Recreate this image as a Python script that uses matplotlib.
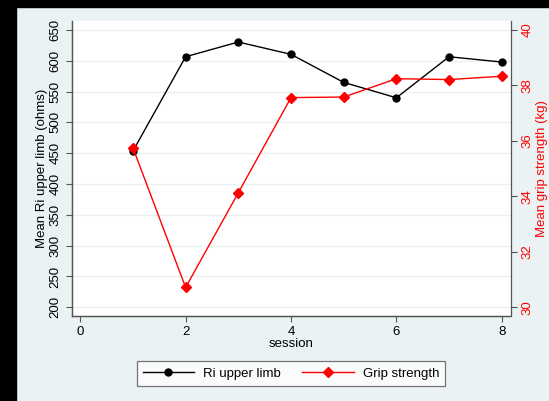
import matplotlib
matplotlib.use("Agg")
import matplotlib.pyplot as plt
from matplotlib.patches import Rectangle

plt.rcParams['font.family'] = ['Liberation Sans', 'DejaVu Sans']

session = [1, 2, 3, 4, 5, 6, 7, 8]
ri_upper = [453.6, 606.6, 630.5, 610.5, 565, 540, 606.6, 598]
grip = [35.75, 30.72, 34.13, 37.56, 37.58, 38.24, 38.21, 38.33]

x_ticks = [0, 2, 4, 6, 8]
left_ticks = list(range(200, 651, 50))
right_ticks = [30, 32, 34, 36, 38, 40]

bg = '#EAF2F3'
fig = plt.figure(figsize=(5.49, 4.01), dpi=100, facecolor=bg)
W, H = 549, 401
# dark frame around the screenshot
fig.patches.append(Rectangle((0, 1 - 7 / H), 1, 7 / H, transform=fig.transFigure,
                             color='black', zorder=0))
fig.patches.append(Rectangle((0, 0), 16 / W, 1, transform=fig.transFigure,
                             color='black', zorder=0))

ax = fig.add_axes([71.5 / W, 1 - 316 / H, (510.5 - 71.5) / W, (316 - 21) / H])
ax.set_facecolor('white')
ax2 = ax.twinx()

l1, = ax.plot(session, ri_upper, color='black', lw=1, marker='o', ms=5,
              label='Ri upper limb')
l2, = ax2.plot(session, grip, color='red', lw=1, marker='D', ms=5,
               label='Grip strength')

ax.set_xlim(-0.166, 8.166)
ax.set_ylim(185.9, 664.6)
ax2.set_ylim(29.69, 40.32)
ax.set_xticks(x_ticks)
ax.set_yticks(left_ticks)
ax2.set_yticks(right_ticks)

ax.grid(axis='y', color='#EAF2F3', lw=1)
ax.set_axisbelow(True)

for a in (ax, ax2):
    a.spines['top'].set_visible(False)
    for s in ('left', 'bottom', 'right'):
        a.spines[s].set_color('#555555')
        a.spines[s].set_linewidth(0.9)
ax.spines['right'].set_visible(False)

ax.tick_params(axis='both', labelsize=9.5, color='#555555', length=4, width=0.8)
ax.tick_params(axis='y', labelrotation=90, pad=3)
for lbl in ax.get_yticklabels():
    lbl.set_va('center')
ax2.tick_params(axis='y', labelsize=9.5, colors='red', length=4, width=0.8,
                labelrotation=90, pad=4)
ax2.tick_params(axis='y', color='#555555')
for lbl in ax2.get_yticklabels():
    lbl.set_va('center')

ax.set_xlabel('session', fontsize=9.5, labelpad=0)
ax.set_ylabel('Mean Ri upper limb (ohms)', fontsize=9.5, labelpad=1)
ax2.set_ylabel('Mean grip strength (kg)', fontsize=9.5, color='red',
               rotation=90, labelpad=2)

leg = fig.legend(handles=[l1, l2], loc='center', ncol=2,
                 bbox_to_anchor=(291 / W, 1 - 373.5 / H),
                 fontsize=9.5, frameon=True, fancybox=False,
                 edgecolor='#555555', handlelength=3.9, handletextpad=0.7,
                 columnspacing=1.6, borderpad=0.45, borderaxespad=0)
leg.get_frame().set_linewidth(0.9)

fig.savefig('out.png', dpi=100, facecolor=bg)
